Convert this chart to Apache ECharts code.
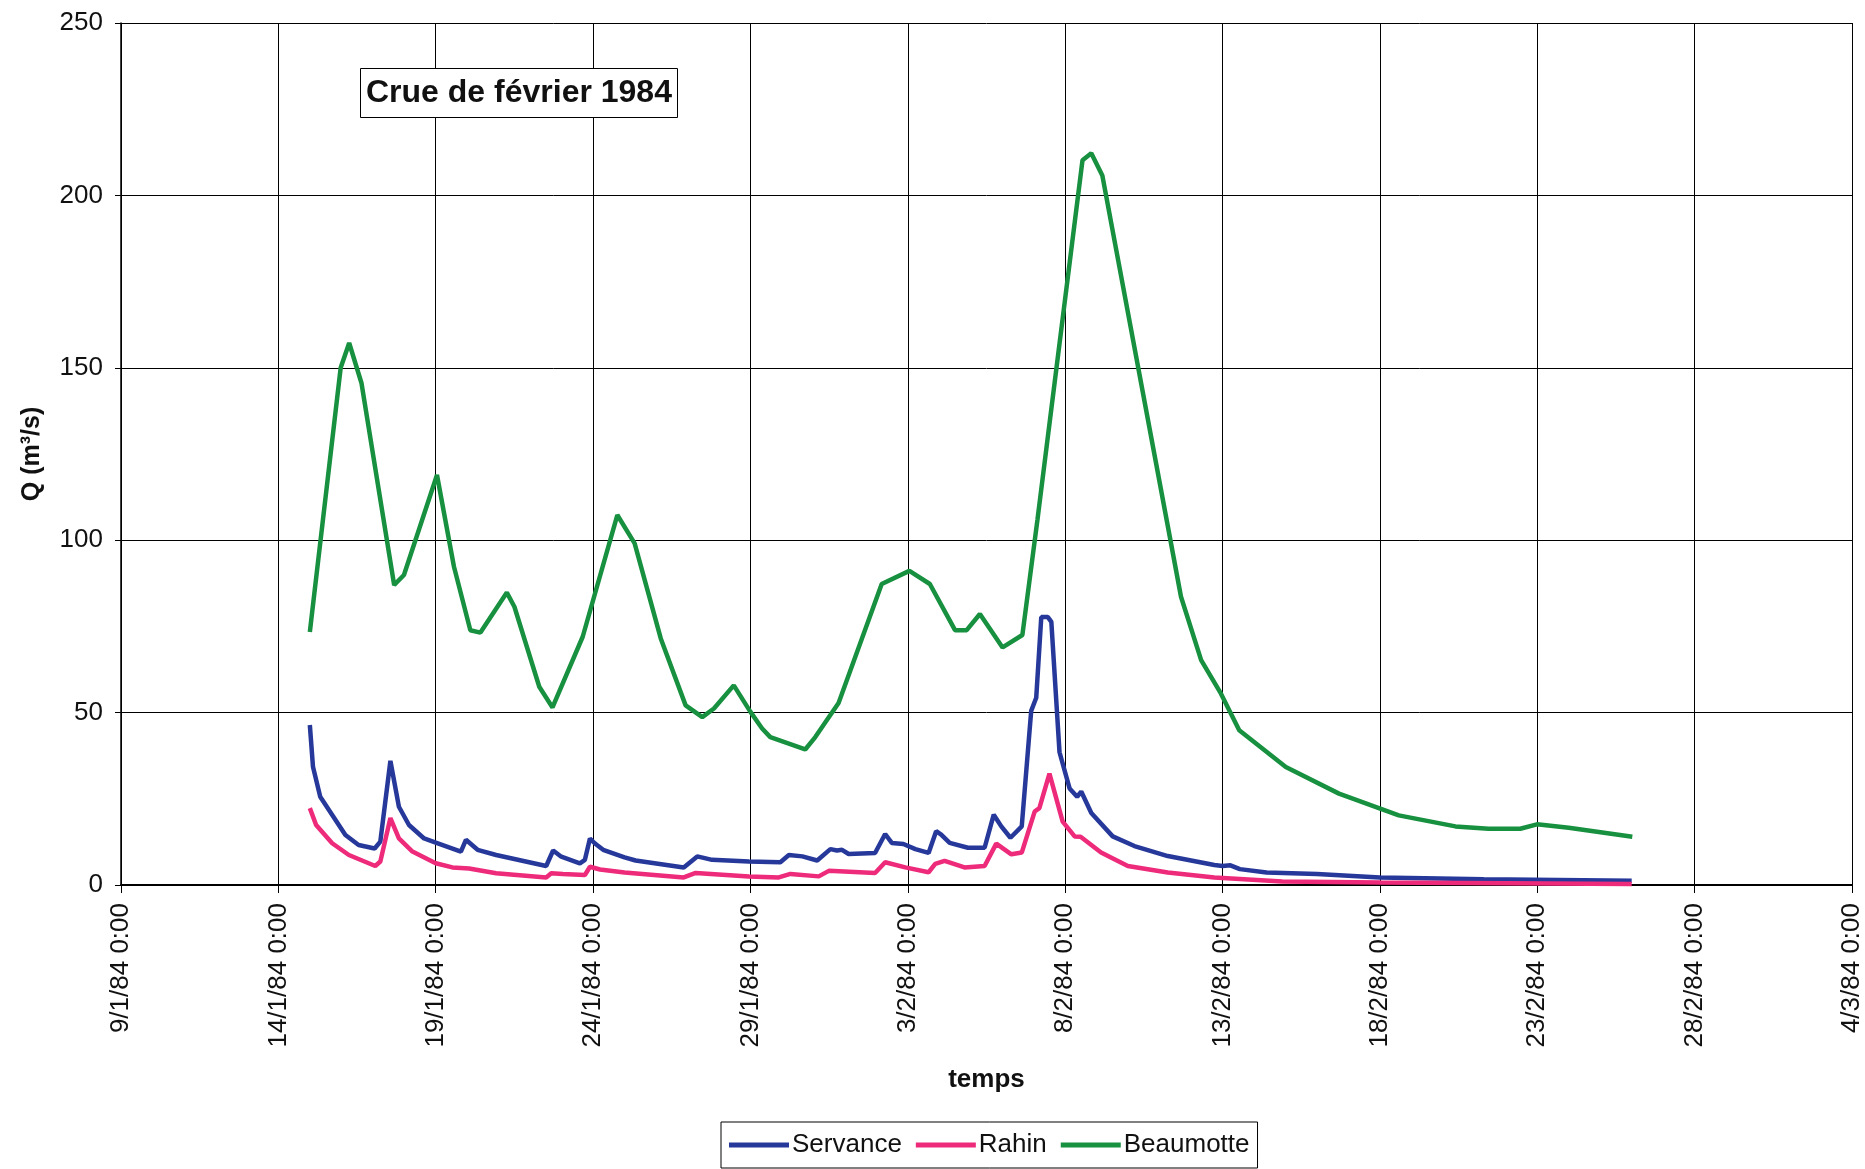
<!DOCTYPE html>
<html>
<head>
<meta charset="utf-8">
<script src="https://cdn.jsdelivr.net/npm/echarts@6/dist/echarts.min.js"></script>
<style>
  html, body { margin: 0; padding: 0; background: #fff; }
  #chart { width: 1865px; height: 1169px; }
</style>
</head>
<body>
<div id="chart"></div>
<script>
// x values: days elapsed since 9/1/84 0:00
const tickLabels = ['9/1/84 0:00','14/1/84 0:00','19/1/84 0:00','24/1/84 0:00','29/1/84 0:00',
  '3/2/84 0:00','8/2/84 0:00','13/2/84 0:00','18/2/84 0:00','23/2/84 0:00','28/2/84 0:00','4/3/84 0:00'];

const servanceDays = [6.0,6.1,6.33,7.13,7.55,8.06,8.24,8.56,8.83,9.15,9.63,10.0,10.8,10.96,11.33,11.92,13.51,13.73,13.99,14.58,14.74,14.9,15.05,15.32,16.0,16.35,17.88,18.31,18.78,19.95,20.95,21.22,21.65,22.12,22.54,22.75,22.91,23.12,23.96,24.28,24.49,24.86,25.24,25.66,25.9,26.06,26.33,26.91,27.44,27.73,27.97,28.26,28.62,28.92,29.08,29.24,29.45,29.56,29.82,30.14,30.38,30.51,30.83,31.51,32.2,33.26,34.74,35.0,35.25,35.55,36.4,38.0,40.0,43.3,48.0];
const servanceQ = [46.4,34.3,25.6,14.5,11.6,10.6,12.6,36.0,22.7,17.4,13.5,12.3,9.7,13.1,10.2,8.7,5.5,10.0,8.2,6.3,7.3,13.5,12.1,10.2,8.0,7.1,5.1,8.3,7.3,6.8,6.6,8.7,8.3,7.1,10.4,10.0,10.2,9.0,9.3,14.8,12.2,11.9,10.4,9.3,15.6,14.6,12.2,10.8,10.8,20.4,17.0,13.7,17.0,50.5,54.3,77.7,77.7,76.3,38.5,28.0,25.6,27.1,20.9,14.1,11.3,8.4,5.8,5.5,5.7,4.6,3.6,3.2,2.2,1.7,1.2];

const rahinDays = [6.0,6.2,6.71,7.24,8.08,8.24,8.56,8.83,9.26,10.0,10.53,11.06,11.92,13.51,13.67,14.04,14.74,14.9,15.22,16.0,17.88,18.26,19.95,20.9,21.27,22.17,22.49,23.96,24.28,24.92,25.66,25.87,26.17,26.8,27.44,27.81,28.29,28.62,29.03,29.18,29.5,29.92,30.3,30.49,31.14,31.99,33.26,34.74,36.9,40.0,48.0];
const rahinQ = [22.3,17.4,12.1,8.7,5.5,6.8,19.4,13.5,9.7,6.3,5.1,4.8,3.4,2.2,3.4,3.2,2.9,5.3,4.5,3.6,2.2,3.5,2.5,2.2,3.2,2.5,4.1,3.5,6.6,5.1,3.7,6.1,7.0,5.1,5.5,12.0,8.9,9.4,21.3,22.3,32.3,18.4,14.1,14.0,9.4,5.5,3.6,2.2,1.0,0.7,0.3];

const beaumotteDays = [6.0,6.98,7.25,7.64,8.68,8.99,10.04,10.58,11.1,11.42,12.26,12.5,13.29,13.71,14.67,15.77,16.32,17.15,17.94,18.47,18.84,19.47,20.0,20.37,20.63,21.74,22.06,22.8,24.17,25.05,25.7,26.5,26.87,27.29,28.01,28.64,29.12,30.55,30.83,31.18,33.68,34.32,34.95,35.53,37.01,38.7,40.6,42.4,43.45,44.46,44.99,46.0,48.02];
const beaumotteQ = [73.4,150.0,157.2,145.6,87.0,89.9,118.9,92.3,73.9,73.2,84.8,80.7,57.5,51.5,72.0,107.3,99.1,71.5,52.1,48.7,51.2,57.9,50.2,45.4,42.9,39.3,42.9,52.8,87.3,91.1,87.3,73.9,73.9,78.6,68.9,72.5,106.0,210.2,212.2,205.8,83.6,65.2,55.5,44.9,34.2,26.5,20.2,17.0,16.3,16.3,17.6,16.6,14.0];

const seriesNames = ['Servance','Rahin','Beaumotte'];
const seriesColors = ['#26389a','#ee2a7b','#17903f'];

function pairs(xs, ys) { return xs.map((x, i) => [x, ys[i]]); }

const FONT = '"Liberation Sans", Arial, sans-serif';
const chart = echarts.init(document.getElementById('chart'), null, { renderer: 'canvas' });

chart.setOption({
  animation: false,
  backgroundColor: '#fff',
  title: {
    text: 'Crue de février 1984',
    left: 360, top: 68,
    padding: [9, 6, 9, 6],
    borderColor: '#000', borderWidth: 1,
    backgroundColor: '#fff',
    textStyle: { fontFamily: FONT, fontWeight: 'bold', fontSize: 32, color: '#111' }
  },
  grid: { left: 121, right: 12, top: 23, bottom: 284, containLabel: false },
  legend: {
    bottom: 1, left: 721,
    data: seriesNames,
    icon: 'rect', itemWidth: 60, itemHeight: 5, itemGap: 14,
    borderColor: '#000', borderWidth: 1, padding: [10, 8, 10, 8],
    textStyle: { fontFamily: FONT, fontSize: 26, color: '#111', padding: [0, 0, 0, -2] }
  },
  xAxis: {
    type: 'value', min: 0, max: 55, interval: 5,
    name: 'temps', nameLocation: 'middle', nameGap: 182,
    nameTextStyle: { fontFamily: FONT, fontWeight: 'bold', fontSize: 26, color: '#111' },
    axisLine: { lineStyle: { color: '#000', width: 2 } },
    axisTick: { show: true, length: 8, lineStyle: { color: '#000' } },
    splitLine: { show: true, lineStyle: { color: '#000', width: 1 } },
    axisLabel: {
      rotate: 90, margin: 18,
      fontFamily: FONT, fontSize: 26, color: '#111',
      formatter: v => tickLabels[Math.round(v / 5)] || ''
    }
  },
  yAxis: {
    type: 'value', min: 0, max: 250, interval: 50,
    name: 'Q (m³/s)', nameLocation: 'middle', nameGap: 76, nameRotate: 90,
    nameTextStyle: { fontFamily: FONT, fontWeight: 'bold', fontSize: 25, color: '#111' },
    axisLine: { show: true, lineStyle: { color: '#000', width: 1.5 } },
    axisTick: { show: true, length: 6, lineStyle: { color: '#000' } },
    splitLine: { show: true, lineStyle: { color: '#000', width: 1 } },
    axisLabel: { margin: 18, fontFamily: FONT, fontSize: 26, color: '#111' }
  },
  series: [
    { name: seriesNames[0], type: 'line', data: pairs(servanceDays, servanceQ), showSymbol: false,
      lineStyle: { width: 4.5, color: seriesColors[0] }, itemStyle: { color: seriesColors[0] } },
    { name: seriesNames[1], type: 'line', data: pairs(rahinDays, rahinQ), showSymbol: false,
      lineStyle: { width: 4.5, color: seriesColors[1] }, itemStyle: { color: seriesColors[1] } },
    { name: seriesNames[2], type: 'line', data: pairs(beaumotteDays, beaumotteQ), showSymbol: false,
      lineStyle: { width: 4.5, color: seriesColors[2] }, itemStyle: { color: seriesColors[2] } }
  ]
});
</script>
</body>
</html>
